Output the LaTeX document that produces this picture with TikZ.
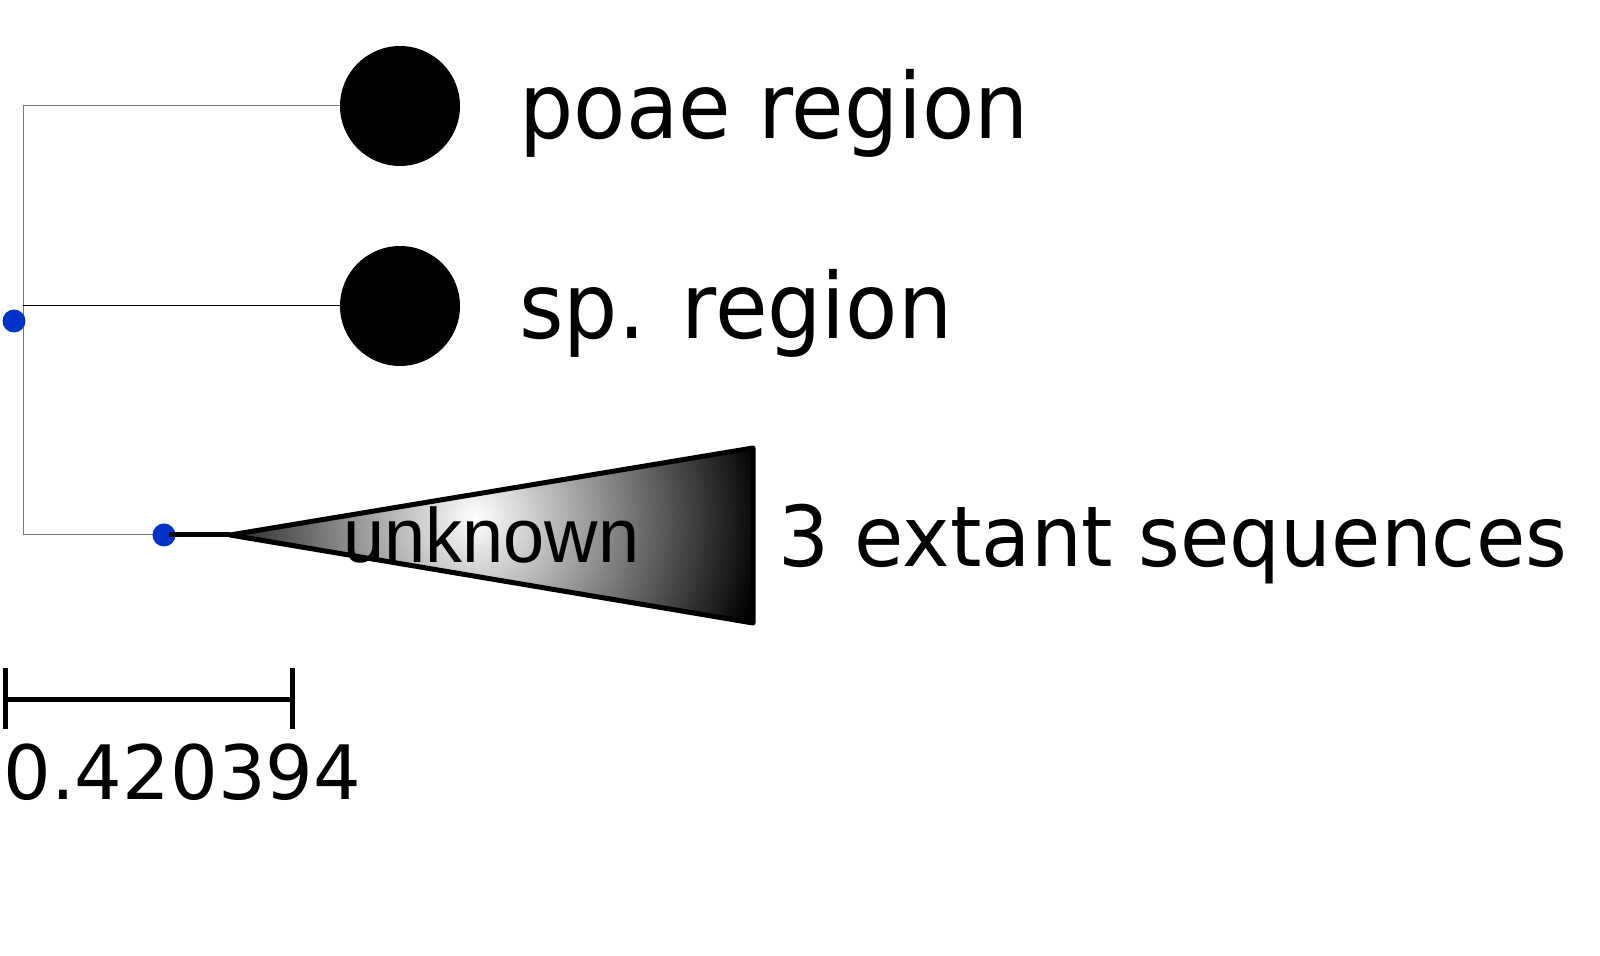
\documentclass[tikz,border=0pt]{standalone}
\usepackage{fontspec}
\newfontfamily\labelfont{DejaVu Sans}[FakeStretch=0.94]
\newfontfamily\seqfont{DejaVu Sans}[FakeStretch=0.955]
\newfontfamily\barfont{DejaVu Sans}
\newfontfamily\cladefont{Liberation Sans}[FakeStretch=0.96]
\definecolor{nodeblue}{RGB}{0,51,200}
\definecolor{branchgrey}{RGB}{120,120,120}

\begin{document}
\begin{tikzpicture}[
		x=0.5pt, y=-0.5pt,
		leaf/.style={circle, fill=black, inner sep=0pt, minimum size=60pt},
		inode/.style={circle, fill=nodeblue, inner sep=0pt, minimum size=11.5pt},
		taxon/.style={anchor=base west, inner sep=0pt, font=\labelfont\fontsize{45.5}{50}\selectfont},
		thickline/.style={line width=2.5pt},
	]
	\path[use as bounding box] (0,0) rectangle (1600,956);
	% tips and internal nodes
	\node[leaf] (poae) at (400,106) {};
	\node[leaf] (sp) at (400,306) {};
	\coordinate (ctop) at (23,106);
	\coordinate (cmid) at (23,306);
	\coordinate (cbot) at (23,535);
	\coordinate (apex) at (230,535);
	\coordinate (tr) at (753,448);
	\coordinate (br) at (753,623);
	% branches
	\draw[branchgrey, line width=0.5pt] (poae.west) -- (ctop) -- (cbot) -- (164,535);
	\draw[black, line width=0.5pt] (cmid) -- (sp.west);
	\node[inode] (root) at (14,321) {};
	\node[inode] (clade) at (164,535) {};
	\draw[thickline] (clade.center) ++(5,0) -- (apex);
	% collapsed clade
	\begin{scope}
		\clip (apex) -- (tr) -- (br) -- cycle;
		\fill[black] (apex) -- (tr) -- (br) -- cycle;
		\shade[inner color=white, outer color=black] (475,518) circle (145pt);
	\end{scope}
	\node[anchor=base west, inner sep=0pt, font=\cladefont\fontsize{38.5}{42}\selectfont] (unk) at (343,562) {unknown};
	\draw[thickline, line join=round] (apex) -- (tr) -- (br) -- cycle;
	% labels
	\node[taxon] (poaelab) at (519,139) {poae region};
	\node[taxon] (splab) at (519,339) {sp. region};
	\node[anchor=base west, inner sep=0pt, font=\seqfont\fontsize{42}{46}\selectfont] (extlab) at (778,567) {3 extant sequences};
	% scale bar
	\coordinate (sbl) at (5,699);
	\coordinate (sbr) at (292,699);
	\draw[thickline] (sbl) -- (sbr);
	\draw[thickline] (5,668) -- (5,729);
	\draw[thickline] (292,668) -- (292,729);
	\node[anchor=base west, inner sep=0pt, font=\barfont\fontsize{37.5}{41}\selectfont] (sblab) at (3,799) {0.420394};
\end{tikzpicture}
\end{document}
